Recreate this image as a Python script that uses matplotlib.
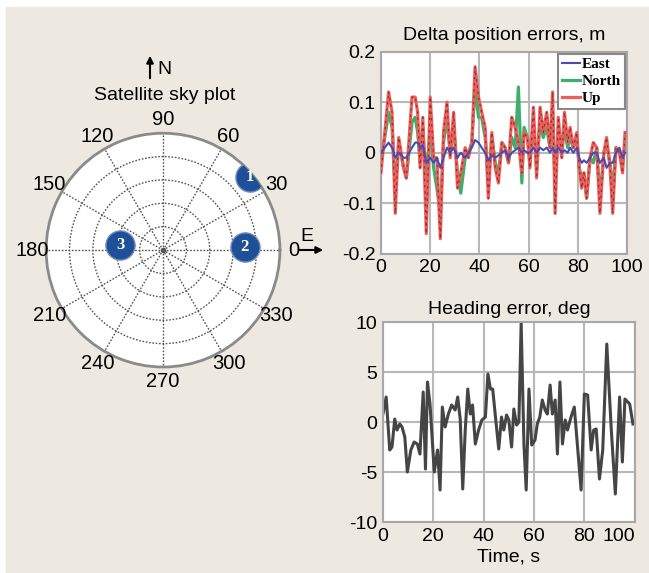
import matplotlib
matplotlib.use('Agg')
import matplotlib.pyplot as plt
import numpy as np

plt.rcParams['font.family'] = ['DejaVu Sans Condensed', 'Liberation Sans Narrow', 'Liberation Sans']
plt.rcParams['axes.unicode_minus'] = False

# sky plot: satellite number, azimuth (deg), elevation (deg)
sat_ids = ['1', '2', '3']
sat_az = [40, 2, 173]
sat_el = [3, 27, 57]
az_labels = [0, 30, 60, 90, 120, 150, 180, 210, 240, 270, 300, 330]

# delta position errors (m) against time (s)
t_pos = [0.0, 3.1, 4.5, 5.8, 7.2, 9.2, 10.3, 12.6, 13.9, 14.9, 15.9, 17.0, 18.4, 20.0, 21.4,
         22.7, 24.1, 25.4, 26.8, 28.1, 29.5, 31.1, 32.4, 34.2, 35.5, 36.9, 38.2, 39.6, 40.9,
         42.3, 43.6, 45.0, 46.4, 47.7, 49.1, 50.4, 51.8, 53.1, 54.5, 55.8, 57.2, 58.1, 59.5,
         60.5, 61.9, 63.2, 64.6, 65.9, 67.3, 68.6, 69.7, 70.7, 72.0, 73.4, 74.5, 75.8, 76.8,
         78.1, 79.5, 80.5, 81.5, 82.4, 83.5, 84.9, 86.2, 87.6, 88.9, 90.5, 91.6, 93.0, 94.1,
         95.4, 96.8, 98.1, 99.1]
east = [0.0, 0.02, 0.01, -0.01, 0.0, -0.01, -0.01, 0.01, 0.02, 0.02, 0.01, 0.015, -0.02, -0.01,
        -0.02, -0.01, -0.03, -0.01, 0.01, 0.0, 0.01, -0.01, 0.0, -0.01, 0.0, 0.01, 0.025, 0.02,
        0.01, 0.0, -0.015, -0.005, -0.01, -0.005, 0.0, 0.005, -0.01, 0.0, 0.005, 0.01, 0.0,
        0.005, 0.0, 0.0, 0.01, 0.0, 0.01, 0.005, 0.01, 0.0, 0.01, 0.0, 0.01, 0.0, 0.005, 0.0,
        0.01, 0.0, 0.01, -0.01, -0.02, -0.015, -0.02, -0.01, 0.0, 0.0, -0.02, -0.01, -0.03,
        -0.02, -0.02, 0.0, 0.01, -0.01, 0.0]
north = [-0.02, 0.08, 0.05, -0.07, 0.02, -0.03, -0.05, 0.06, 0.07, 0.04, -0.02, 0.05, -0.05,
         0.05, -0.03, -0.07, -0.12, 0.02, 0.07, 0.0, 0.05, -0.04, -0.08, -0.01, 0.0, 0.02, 0.13,
         0.07, 0.07, 0.03, -0.06, 0.03, -0.02, -0.04, 0.02, 0.01, -0.02, 0.03, 0.01, 0.13, -0.06,
         0.05, 0.03, -0.02, 0.06, -0.03, 0.06, 0.03, 0.05, 0.01, 0.08, -0.06, 0.05, 0.0, 0.05,
         0.01, 0.03, 0.01, 0.03, -0.03, -0.05, -0.04, -0.09, -0.01, -0.02, 0.01, -0.09, 0.0,
         0.02, -0.02, -0.08, 0.01, 0.0, -0.02, 0.02]
up = [-0.04, 0.12, 0.08, -0.12, 0.03, -0.03, -0.05, 0.11, 0.11, 0.08, -0.03, 0.07, -0.16, 0.11,
      -0.01, -0.01, -0.17, 0.04, 0.10, -0.01, 0.08, -0.07, -0.04, 0.01, -0.01, 0.02, 0.17, 0.11,
      0.08, 0.05, -0.09, 0.04, -0.03, -0.06, 0.02, 0.01, -0.02, 0.07, 0.05, 0.02, -0.04, 0.04,
      0.03, -0.03, 0.09, -0.05, 0.09, 0.04, 0.08, 0.01, 0.12, -0.12, 0.07, -0.01, 0.08, 0.02,
      0.05, 0.01, 0.04, -0.03, -0.07, -0.04, -0.09, -0.01, 0.02, 0.01, -0.12, 0.0, 0.03, -0.03,
      -0.12, 0.01, 0.0, -0.04, 0.04]

# heading error (deg) against time (s)
t_head = [0.0, 1.3, 2.7, 3.6, 4.7, 5.6, 6.7, 7.6, 8.7, 9.7, 11.1, 12.4, 13.7, 14.7, 16.0, 16.9,
          17.7, 18.7, 20.4, 21.7, 22.7, 23.6, 24.7, 26.0, 27.3, 28.7, 29.7, 30.7, 31.7, 32.7,
          33.7, 34.7, 35.6, 36.7, 38.0, 39.3, 40.7, 41.7, 42.7, 43.6, 44.7, 46.0, 47.1, 48.0,
          49.1, 50.0, 51.1, 52.0, 53.1, 54.0, 54.9, 56.0, 56.9, 58.0, 59.1, 60.4, 61.3, 62.3,
          63.3, 64.4, 65.3, 66.4, 67.3, 68.4, 69.3, 70.3, 71.3, 72.4, 73.3, 74.7, 76.0, 77.3,
          78.7, 80.0, 81.3, 82.7, 83.7, 84.7, 86.0, 87.3, 88.9, 90.7, 92.3, 94.0, 95.1, 96.1,
          98.0, 99.3]
heading = [0.8, 2.5, -2.8, -2.5, 0.3, -0.8, -0.2, -0.5, -1.5, -5.0, -2.8, -2.0, -2.2, -3.2, 3.0,
           -4.7, 4.0, 1.8, -5.0, -2.8, -6.8, 1.5, -0.5, 0.8, 1.7, 1.2, 2.5, 0.3, -6.7, -0.8, 3.3,
           0.8, 1.7, -2.2, -0.8, 0.2, 0.5, 4.8, 3.3, 3.3, 0.5, -2.7, 0.5, -0.8, 0.7, 0.2, -2.5,
           1.3, -0.3, 0.0, 9.9, -2.2, -6.8, 3.3, -2.3, -1.8, -0.2, 0.5, 2.2, 1.2, 0.8, 3.7, 0.8,
           2.2, -3.2, 4.0, -2.2, 0.2, -0.8, 0.5, 1.5, -2.5, -6.8, 2.8, 2.7, -2.8, -0.8, -0.7,
           -5.7, -2.8, 7.8, -0.8, -7.2, 2.5, -4.0, 2.3, 1.8, -0.2]

bg = '#ede9e0'
grid_c = '#b8b8b8'
fs = 14

fig = plt.figure(figsize=(6.49, 5.73), dpi=100, facecolor='white')
fig.patches.append(plt.Rectangle((6 / 649, 0), 1, 1 - 7 / 573, transform=fig.transFigure,
                                 color=bg, zorder=-10))

# ---- sky plot ----
ax = fig.add_axes([0.0709, 0.3595, 0.3606, 0.408], projection='polar')
ax.set_facecolor('white')
ax.set_ylim(0, 1)
ax.set_rticks([0.2, 0.4, 0.6, 0.8])
ax.set_yticklabels([])
ax.set_thetagrids(az_labels, [''] * len(az_labels))
ax.grid(True, color='#555555', linestyle=(0, (1.2, 1.2)), linewidth=1.0)
ax.spines['polar'].set_color('#8a8a8a')
ax.spines['polar'].set_linewidth(2)
ax.plot(0, 0, 'o', color='#555555', markersize=3)
for a in az_labels:
    ax.text(np.deg2rad(a), 1.12, str(a), ha='center', va='center', fontsize=14.5, clip_on=False)

r = [(90 - e) / 90 for e in sat_el]
th = np.deg2rad(sat_az)
ax.plot(th, r, 'o', color='#1f4f96', markersize=21, markeredgecolor='#6f8fc0',
        markeredgewidth=1, linestyle='none', zorder=5)
for s, a, rr in zip(sat_ids, th, r):
    ax.text(a, rr, s, ha='center', va='center', color='white', fontsize=12,
            fontweight='bold', family='Liberation Serif', zorder=6)

fig.text(165 / 649, 1 - 95 / 573, 'Satellite sky plot', ha='center', va='center', fontsize=fs)
fig.text(157 / 649, 1 - 69 / 573, 'N', ha='left', va='center', fontsize=fs)
fig.patches.append(matplotlib.patches.FancyArrowPatch(
    (150 / 649, 1 - 81 / 573), (150 / 649, 1 - 53 / 573), transform=fig.transFigure,
    arrowstyle='-|>', mutation_scale=10, color='black', lw=1.5))
fig.text(307 / 649, 1 - 236 / 573, 'E', ha='center', va='center', fontsize=fs)
fig.patches.append(matplotlib.patches.FancyArrowPatch(
    (297 / 649, 1 - 250 / 573), (326 / 649, 1 - 250 / 573), transform=fig.transFigure,
    arrowstyle='-|>', mutation_scale=10, color='black', lw=1.5))

# ---- delta position errors ----
ax1 = fig.add_axes([0.587, 0.557, 0.3795, 0.353])
ax1.plot(t_pos, east, color='#4a4ab4', lw=1.5, label='East', zorder=4)
ax1.plot(t_pos, north, color='#3fae6a', lw=2.3, label='North', zorder=2)
ax1.plot(t_pos, up, color='#f25c58', lw=2.3, label='Up', zorder=3)
ax1.plot(t_pos, up, color='#3a2020', lw=0.9, ls=(0, (2, 3)), alpha=0.6, zorder=3)
ax1.set_xlim(0, 100)
ax1.set_ylim(-0.2, 0.2)
ax1.set_xticks([0, 20, 40, 60, 80, 100])
ax1.set_yticks([-0.2, -0.1, 0, 0.1, 0.2])
ax1.set_yticklabels(['-0.2', '-0.1', '0', '0.1', '0.2'])
ax1.set_title('Delta position errors, m', fontsize=fs, pad=8)
leg = ax1.legend(loc='upper right', handlelength=1.2, handletextpad=0.1, borderpad=0.25,
                 labelspacing=0.2, borderaxespad=0.15, fancybox=False, framealpha=1,
                 edgecolor='#888888', prop={'family': 'Liberation Serif', 'size': 11,
                                            'weight': 'bold'})
leg.get_frame().set_linewidth(1.5)

# ---- heading error ----
ax2 = fig.add_axes([0.590, 0.089, 0.388, 0.349])
ax2.plot(t_head, heading, color='#454545', lw=2.2)
ax2.set_xlim(0, 100)
ax2.set_ylim(-10, 10)
ax2.set_xticks([0, 20, 40, 60, 80, 100])
ax2.set_yticks([-10, -5, 0, 5, 10])
ax2.set_title('Heading error, deg', fontsize=fs, pad=6)
ax2.set_xlabel('Time, s', fontsize=fs, labelpad=3)

for a in (ax1, ax2):
    a.set_facecolor('white')
    a.grid(True, color=grid_c, lw=1.5)
    a.set_axisbelow(True)
    a.tick_params(length=0, labelsize=fs, pad=4)
    for sp in a.spines.values():
        sp.set_color('#a8a8a8')
        sp.set_linewidth(1.5)

ax2.get_xticklabels()[-1].set_horizontalalignment('right')

fig.savefig('out.png', dpi=100, facecolor=fig.get_facecolor())
